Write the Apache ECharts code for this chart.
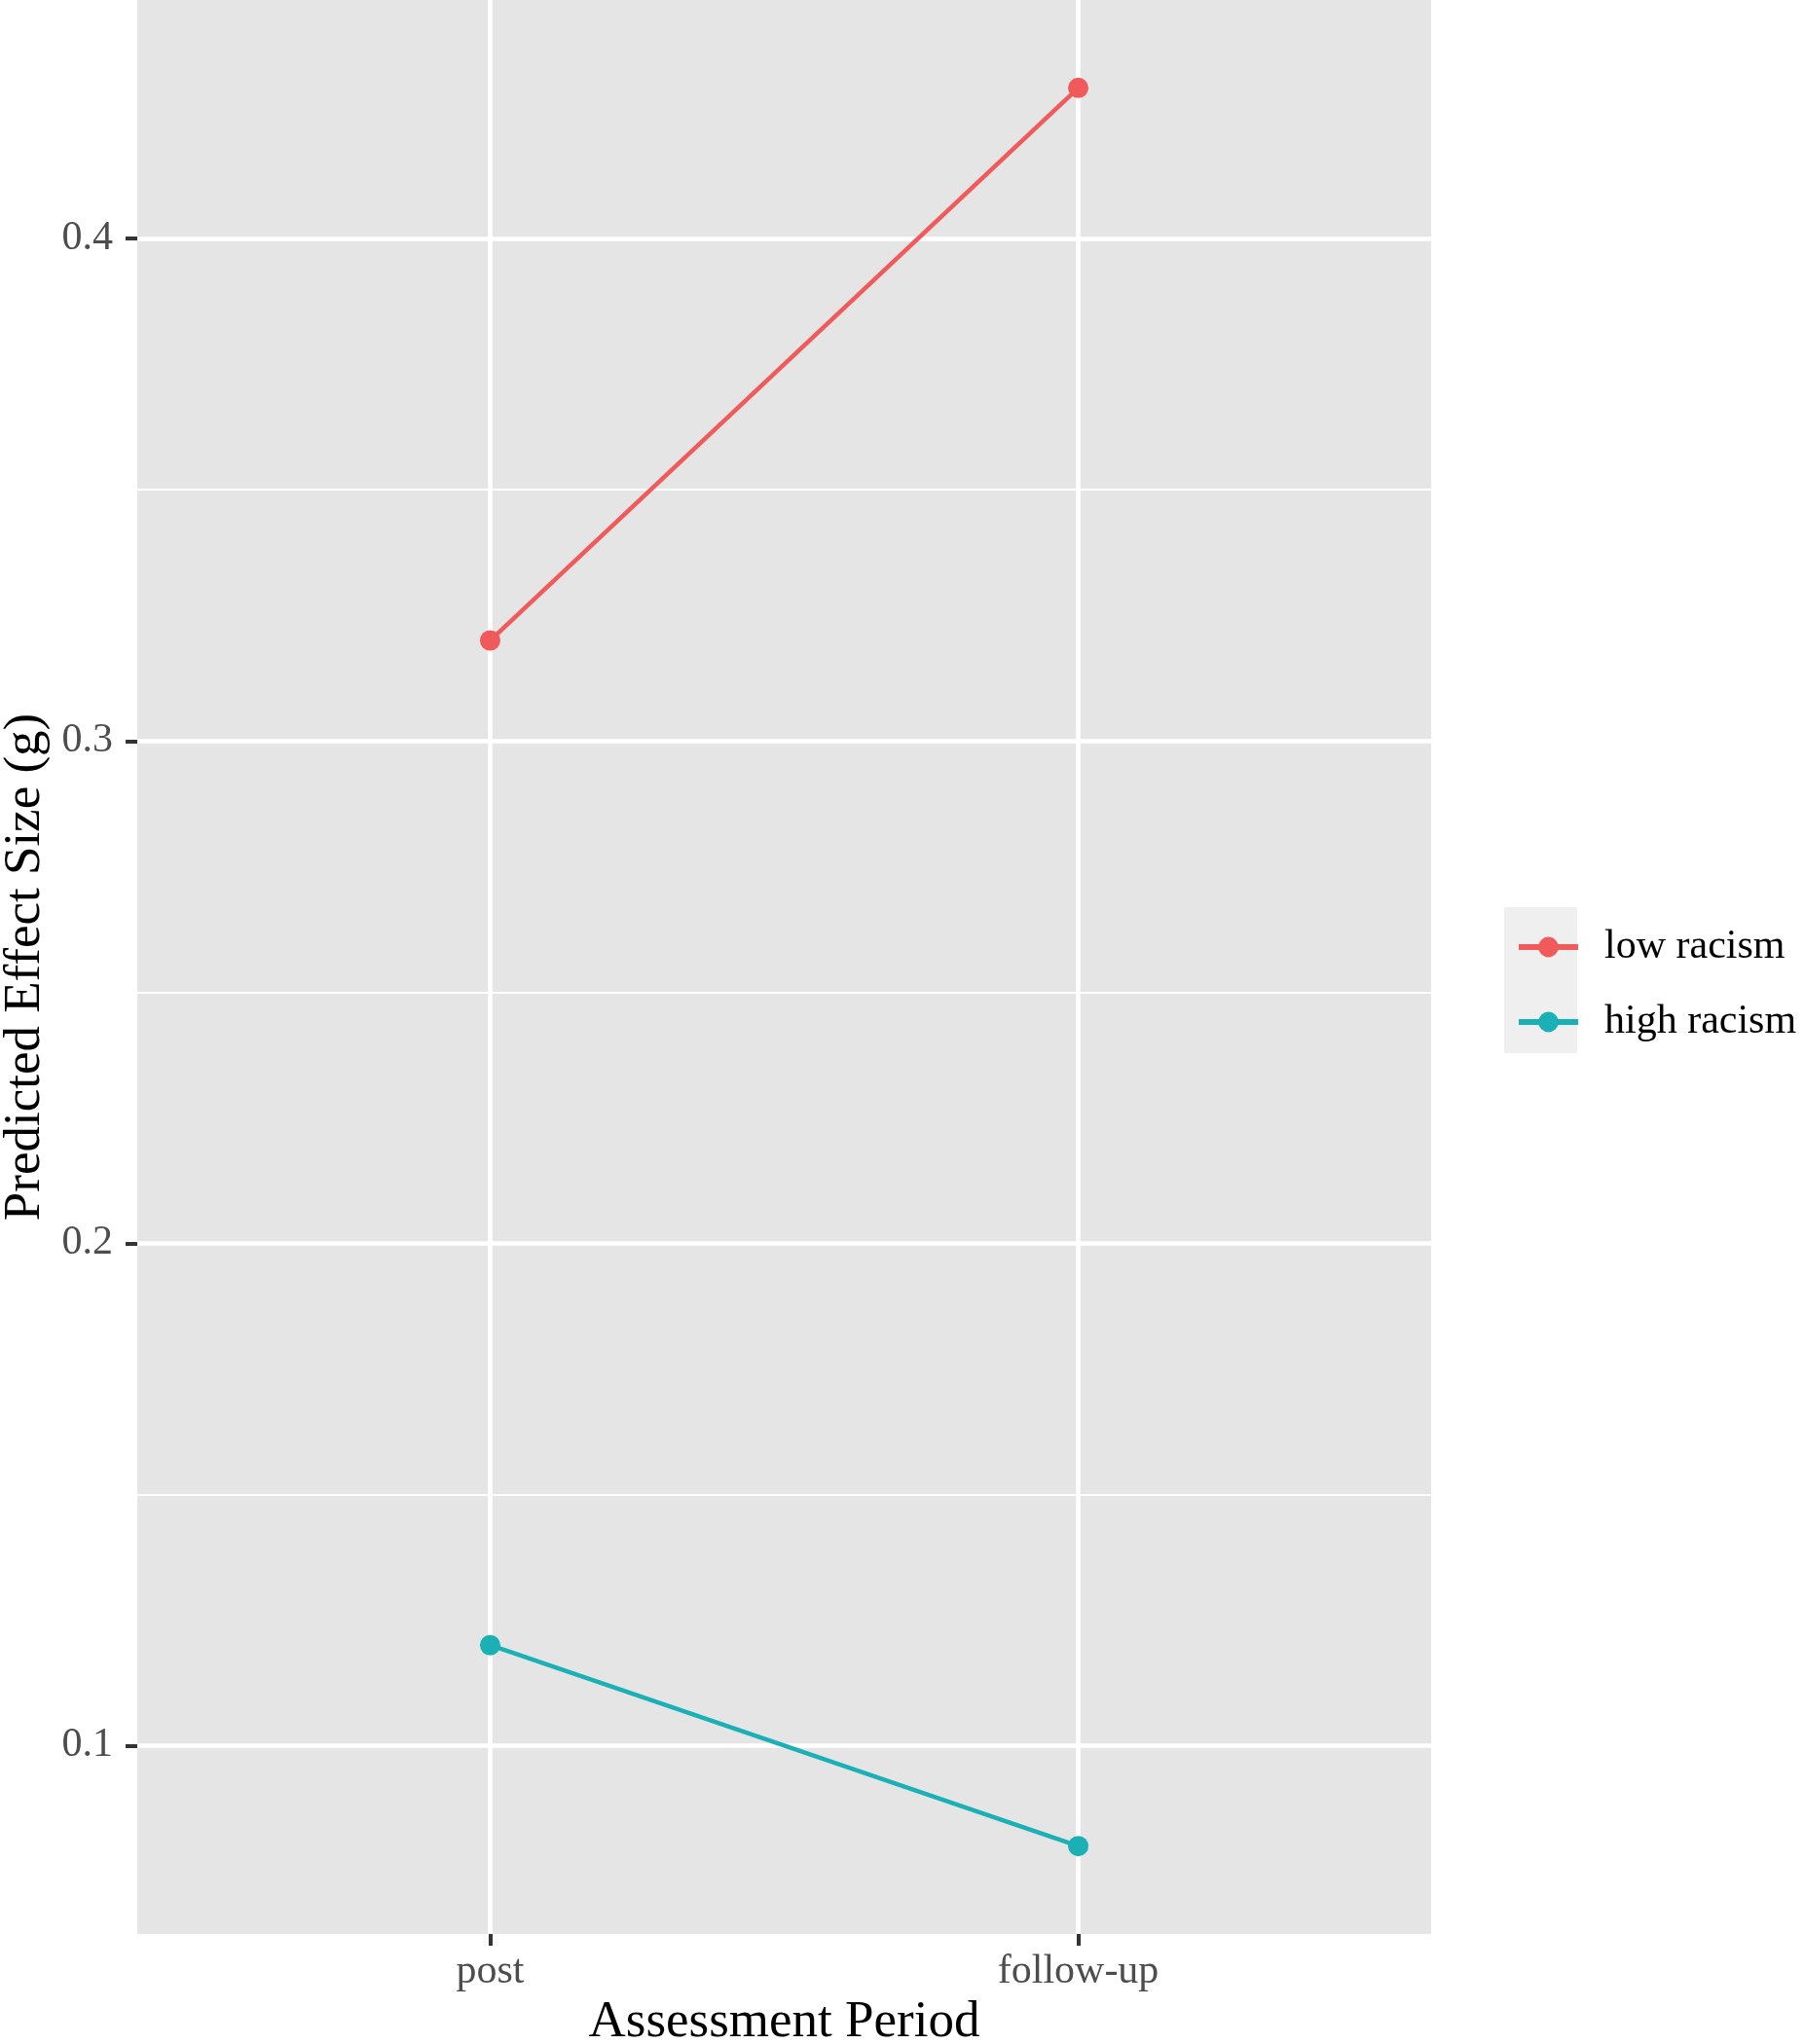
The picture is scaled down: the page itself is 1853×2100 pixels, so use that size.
<!DOCTYPE html>
<html>
<head>
<meta charset="utf-8">
<script src="https://cdn.jsdelivr.net/npm/echarts@6/dist/echarts.min.js"></script>
<style>html,body{margin:0;padding:0;background:#fff}#c{width:1853px;height:2100px}</style>
</head>
<body>
<div id="c"></div>
<script>
const categories = ['post', 'follow-up'];
const seriesNames = ['low racism', 'high racism'];
const lowRacism = [0.320, 0.430];
const highRacism = [0.120, 0.080];
const yTicks = [0.1, 0.2, 0.3, 0.4];
const yMinorTicks = [0.15, 0.25, 0.35];
const colors = ['#F05A5A', '#1AB0B5'];

const toPoints = vals => vals.map((v, i) => [i + 1, v]);
const FONT = 'Liberation Serif';

const chart = echarts.init(document.getElementById('c'), null, {renderer: 'canvas'});
chart.setOption({
  backgroundColor: '#ffffff',
  animation: false,
  grid: {left: 141, right: 383, top: 0, bottom: 113, show: true, backgroundColor: '#E5E5E5', borderWidth: 0,
    containLabel: false, outerBoundsMode: 'none'},
  xAxis: {
    type: 'value', min: 0.4, max: 2.6,
    name: 'Assessment Period', nameLocation: 'middle', nameGap: 60,
    nameTextStyle: {fontFamily: FONT, fontSize: 53, color: '#000'},
    axisLine: {show: false},
    axisTick: {show: true, length: 12, customValues: [1, 2], lineStyle: {color: '#333333', width: 4}},
    axisLabel: {customValues: [1, 2], fontFamily: FONT, fontSize: 42, color: '#4D4D4D', margin: 18,
      formatter: v => categories[Math.round(v) - 1] || ''},
    splitLine: {show: true, lineStyle: {color: '#ffffff', width: 4.5}}
  },
  yAxis: [{
    type: 'value', min: 0.0625, max: 0.4475,
    name: 'Predicted Effect Size (g)', nameLocation: 'middle', nameGap: 86, nameRotate: 90,
    nameTextStyle: {fontFamily: FONT, fontSize: 53, color: '#000'},
    axisLine: {show: false},
    axisTick: {show: true, length: 12, customValues: yTicks, lineStyle: {color: '#333333', width: 4}},
    axisLabel: {customValues: yTicks, fontFamily: FONT, fontSize: 42, color: '#4D4D4D', margin: 25,
      formatter: v => v.toFixed(1)},
    splitLine: {show: true, lineStyle: {color: '#ffffff', width: 4.5}}
  }, {
    type: 'value', min: 0.0625, max: 0.4475, position: 'left',
    axisLine: {show: false},
    axisTick: {show: false, customValues: yMinorTicks},
    axisLabel: {show: false, customValues: yMinorTicks},
    splitLine: {show: true, lineStyle: {color: '#ffffff', width: 2.2}}
  }],
  legend: {
    left: 1552, top: 947, orient: 'vertical',
    itemWidth: 61, itemHeight: 26, itemGap: 35,
    textStyle: {fontFamily: FONT, fontSize: 42, color: '#000', padding: [0, 0, 0, 22]},
    data: seriesNames.map((n, i) => ({name: n, lineStyle: {width: 6, color: colors[i]}}))
  },
  graphic: [{
    type: 'rect', z: -1, left: 1545, top: 932, shape: {width: 75, height: 150},
    style: {fill: '#EFEFEF'}
  }],
  series: [
    {name: seriesNames[0], type: 'line', data: toPoints(lowRacism), color: colors[0],
      symbol: 'circle', symbolSize: 21, lineStyle: {width: 4.5}, z: 5},
    {name: seriesNames[1], type: 'line', data: toPoints(highRacism), color: colors[1],
      symbol: 'circle', symbolSize: 21, lineStyle: {width: 4.5}, z: 5}
  ]
});
</script>
</body>
</html>
